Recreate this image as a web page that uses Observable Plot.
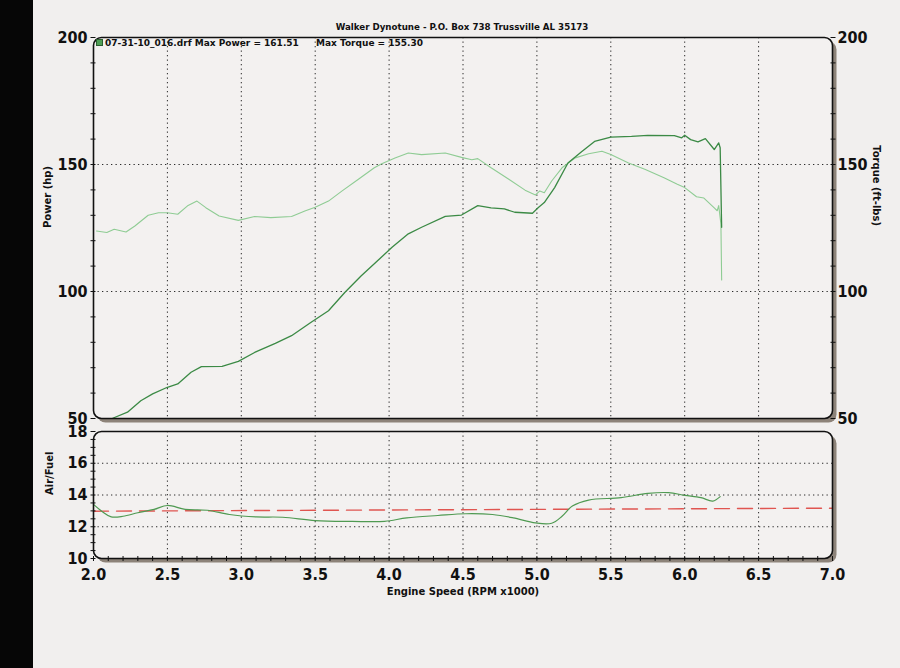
<!DOCTYPE html>
<html><head><meta charset="utf-8">
<script src="https://cdn.jsdelivr.net/npm/d3@7"></script>
<script src="https://cdn.jsdelivr.net/npm/@observablehq/plot@0.6"></script>
<style>
html,body{margin:0;padding:0;background:#f1efee;overflow:hidden;}
#wrap{position:relative;width:900px;height:668px;background:#f1efee;font-family:"DejaVu Sans",sans-serif;font-weight:bold;color:#111;}
#strip{position:absolute;left:0;top:0;width:33px;height:668px;background:#060606;}
#title{position:absolute;left:0;width:924px;top:21.5px;text-align:center;font-size:8.7px;line-height:10px;white-space:pre;}
.leg{position:absolute;top:39px;font-size:9px;line-height:9px;white-space:pre;}
#swatch{position:absolute;left:96px;top:39px;width:5px;height:5px;background:#4f9f55;border:1px solid #2b5e2f;}
#upper,#lower{position:absolute;left:0;}
#upper{top:0px}
#lower{top:420px}
</style></head><body>
<div id="wrap">
  <div id="strip"></div>
  <div id="upper"></div>
  <div id="lower"></div>
  <div id="title"></div>
  <div id="swatch"></div>
  <div class="leg" id="leg1" style="left:105px"></div>
  <div class="leg" id="leg2" style="left:316px"></div>
</div>
<script>
// ---------- data ----------
const titleText = "Walker Dynotune - P.O. Box 738 Trussville AL 35173";
const runName = "07-31-10_016.drf";
const maxPower = "161.51";
const maxTorque = "155.30";

const powerRpm = [2.13,2.23,2.32,2.40,2.50,2.57,2.66,2.73,2.87,2.98,3.09,3.23,3.34,3.47,3.59,3.70,3.81,3.92,4.02,4.13,4.22,4.38,4.49,4.60,4.69,4.78,4.85,4.97,5.01,5.05,5.12,5.21,5.30,5.39,5.50,5.64,5.75,5.93,5.98,6.00,6.04,6.09,6.14,6.20,6.23,6.24,6.25];
const powerHp  = [50.1,52.5,57.0,59.7,62.3,63.6,68.2,70.4,70.5,72.5,76.0,79.6,82.6,87.8,92.4,99.6,106.1,112.0,117.4,122.7,125.3,129.6,130.1,133.8,132.9,132.5,131.2,130.8,133.1,135.0,140.9,150.6,154.9,159.1,160.8,161.1,161.5,161.4,160.5,161.5,159.8,158.9,160.2,155.9,158.5,156.6,125.3];

const torqueRpm = [2.02,2.09,2.14,2.22,2.28,2.37,2.44,2.50,2.57,2.64,2.70,2.76,2.85,2.98,3.09,3.20,3.34,3.43,3.50,3.59,3.68,3.79,3.90,3.95,4.04,4.13,4.22,4.38,4.49,4.56,4.60,4.69,4.81,4.92,4.99,5.02,5.05,5.10,5.17,5.26,5.35,5.44,5.50,5.62,5.73,5.86,5.95,6.00,6.08,6.13,6.20,6.22,6.23,6.245,6.25];
const torqueLbft = [123.8,123.2,124.5,123.4,125.8,130.0,131.0,131.0,130.4,133.9,135.6,133.0,129.7,128.0,129.5,129.1,129.5,131.7,133.2,135.6,139.5,144.1,148.7,150.3,152.6,154.5,153.9,154.5,152.8,151.9,152.3,148.7,144.2,139.9,138.0,139.6,138.9,143.5,148.7,152.6,154.2,155.2,153.9,150.6,148.1,144.8,142.2,140.9,137.3,136.8,132.9,131.8,133.8,126.6,104.5];

const afrRpm = [2.00,2.06,2.12,2.20,2.30,2.41,2.50,2.62,2.77,2.92,3.10,3.28,3.50,3.75,3.97,4.12,4.33,4.52,4.70,4.84,4.99,5.10,5.17,5.24,5.35,5.57,5.75,5.89,6.00,6.11,6.19,6.24];
const afrRatio = [13.41,12.95,12.62,12.66,12.88,13.09,13.34,13.09,13.04,12.77,12.62,12.6,12.39,12.34,12.34,12.56,12.71,12.82,12.77,12.56,12.24,12.22,12.66,13.3,13.68,13.83,14.1,14.15,13.98,13.83,13.62,13.9];

const targetRpm = [2.0, 7.0];
const targetRatio = [12.98, 13.17];

const rpmTicks = [2.0,2.5,3.0,3.5,4.0,4.5,5.0,5.5,6.0,6.5,7.0];
const rpmGrid = [2.5,3.0,3.5,4.0,4.5,5.0,5.5,6.0,6.5];
const hpTicks = [50,100,150,200];
const hpGrid = [100,150];
const afrTicks = [10,12,14,16,18];
const afrGrid = [12,14,16];

// ---------- build ----------
const power = powerRpm.map((r,i)=>({rpm:r, v:powerHp[i]}));
const torque = torqueRpm.map((r,i)=>({rpm:r, v:torqueLbft[i]}));
const afr = afrRpm.map((r,i)=>({rpm:r, v:afrRatio[i]}));
const target = targetRpm.map((r,i)=>({rpm:r, v:targetRatio[i]}));

const paper = "#f3f1f0";
const shadow = "#8d8379";
const gridStyle = {stroke:"#2a2a2a", strokeWidth:1, strokeDasharray:"1.3,3.2"};
const bigFont = {fontSize:16, fontFamily:"DejaVu Sans Condensed, DejaVu Sans", fontWeight:"bold"};
const style = {background:"transparent", fontFamily:"DejaVu Sans", fontWeight:"bold", color:"#111", overflow:"visible"};

const minorHp = d3.range(50, 201, 10);
const minorAfr = d3.range(10, 18.01, 0.5);
const minorRpm = d3.range(2.0, 7.001, 0.1);

const upper = Plot.plot({
  width: 900, height: 430,
  marginLeft: 93, marginRight: 68, marginTop: 37, marginBottom: 12,
  x: {domain:[2,7], axis:null, label:null},
  y: {domain:[50,200], axis:null, label:null},
  style,
  marks: [
    Plot.frame({fill:shadow, stroke:"none", rx:8, dx:4, dy:4}),
    Plot.frame({fill:paper, stroke:"none", rx:8}),
    Plot.ruleX(rpmGrid, gridStyle),
    Plot.ruleY(hpGrid, gridStyle),
    Plot.line(torque, {x:"rpm", y:"v", stroke:"#8fcc94", strokeWidth:1.1}),
    Plot.line(power, {x:"rpm", y:"v", stroke:"#3b8a45", strokeWidth:1.3}),
    Plot.frame({stroke:"#111", strokeWidth:1.6, rx:8}),
    Plot.axisY(minorHp, {anchor:"left", tickSize:5, dx:2.5, tickFormat:()=>"", label:null, stroke:"#111"}),
    Plot.axisY(minorHp, {anchor:"right", tickSize:5, dx:-2.5, tickFormat:()=>"", label:null, stroke:"#111"}),
    Plot.axisY(hpTicks, {anchor:"left", tickSize:0, tickPadding:6, label:null, ...bigFont}),
    Plot.axisY(hpTicks, {anchor:"right", tickSize:0, tickPadding:5, label:null, ...bigFont}),
    Plot.text(["Power (hp)"], {frameAnchor:"left", rotate:-90, dx:-46, fontSize:10, fontWeight:"bold"}),
    Plot.text(["Torque (ft-lbs)"], {frameAnchor:"right", rotate:90, dx:44, dy:-2, fontSize:10, fontWeight:"bold"})
  ]
});
document.getElementById("upper").append(upper);

const lower = Plot.plot({
  width: 900, height: 200,
  marginLeft: 93, marginRight: 68, marginTop: 11, marginBottom: 62,
  x: {domain:[2,7], axis:null, label:null},
  y: {domain:[10,18], axis:null, label:null},
  style,
  marks: [
    Plot.frame({fill:shadow, stroke:"none", rx:8, dx:4, dy:4}),
    Plot.frame({fill:paper, stroke:"none", rx:8}),
    Plot.ruleX(rpmGrid, gridStyle),
    Plot.ruleY(afrGrid, gridStyle),
    Plot.line(target, {x:"rpm", y:"v", stroke:"#e05550", strokeWidth:1.4, strokeDasharray:"15,8"}),
    Plot.line(afr, {x:"rpm", y:"v", stroke:"#4f9a52", strokeWidth:1.2, curve:"catmull-rom"}),
    Plot.frame({stroke:"#111", strokeWidth:1.6, rx:8}),
    Plot.axisY(minorAfr, {anchor:"left", tickSize:5, dx:2.5, tickFormat:()=>"", label:null, stroke:"#111"}),
    Plot.axisX(minorRpm, {anchor:"bottom", tickSize:5, dy:-2, tickFormat:()=>"", label:null, stroke:"#111"}),
    Plot.axisY(afrTicks, {anchor:"left", tickSize:0, tickPadding:6, label:null, ...bigFont}),
    Plot.axisX(rpmTicks, {anchor:"bottom", tickSize:0, tickPadding:10, tickFormat:d3.format(".1f"), label:null, ...bigFont}),
    Plot.text(["Air/Fuel"], {frameAnchor:"left", rotate:-90, dx:-44, fontSize:10, fontWeight:"bold"}),
    Plot.text(["Engine Speed (RPM x1000)"], {frameAnchor:"bottom", dy:36, fontSize:10, fontWeight:"bold"})
  ]
});
document.getElementById("lower").append(lower);

document.getElementById("title").textContent = titleText;
document.getElementById("leg1").textContent = runName + " Max Power = " + maxPower;
document.getElementById("leg2").textContent = "Max Torque = " + maxTorque;
</script>
</body></html>
